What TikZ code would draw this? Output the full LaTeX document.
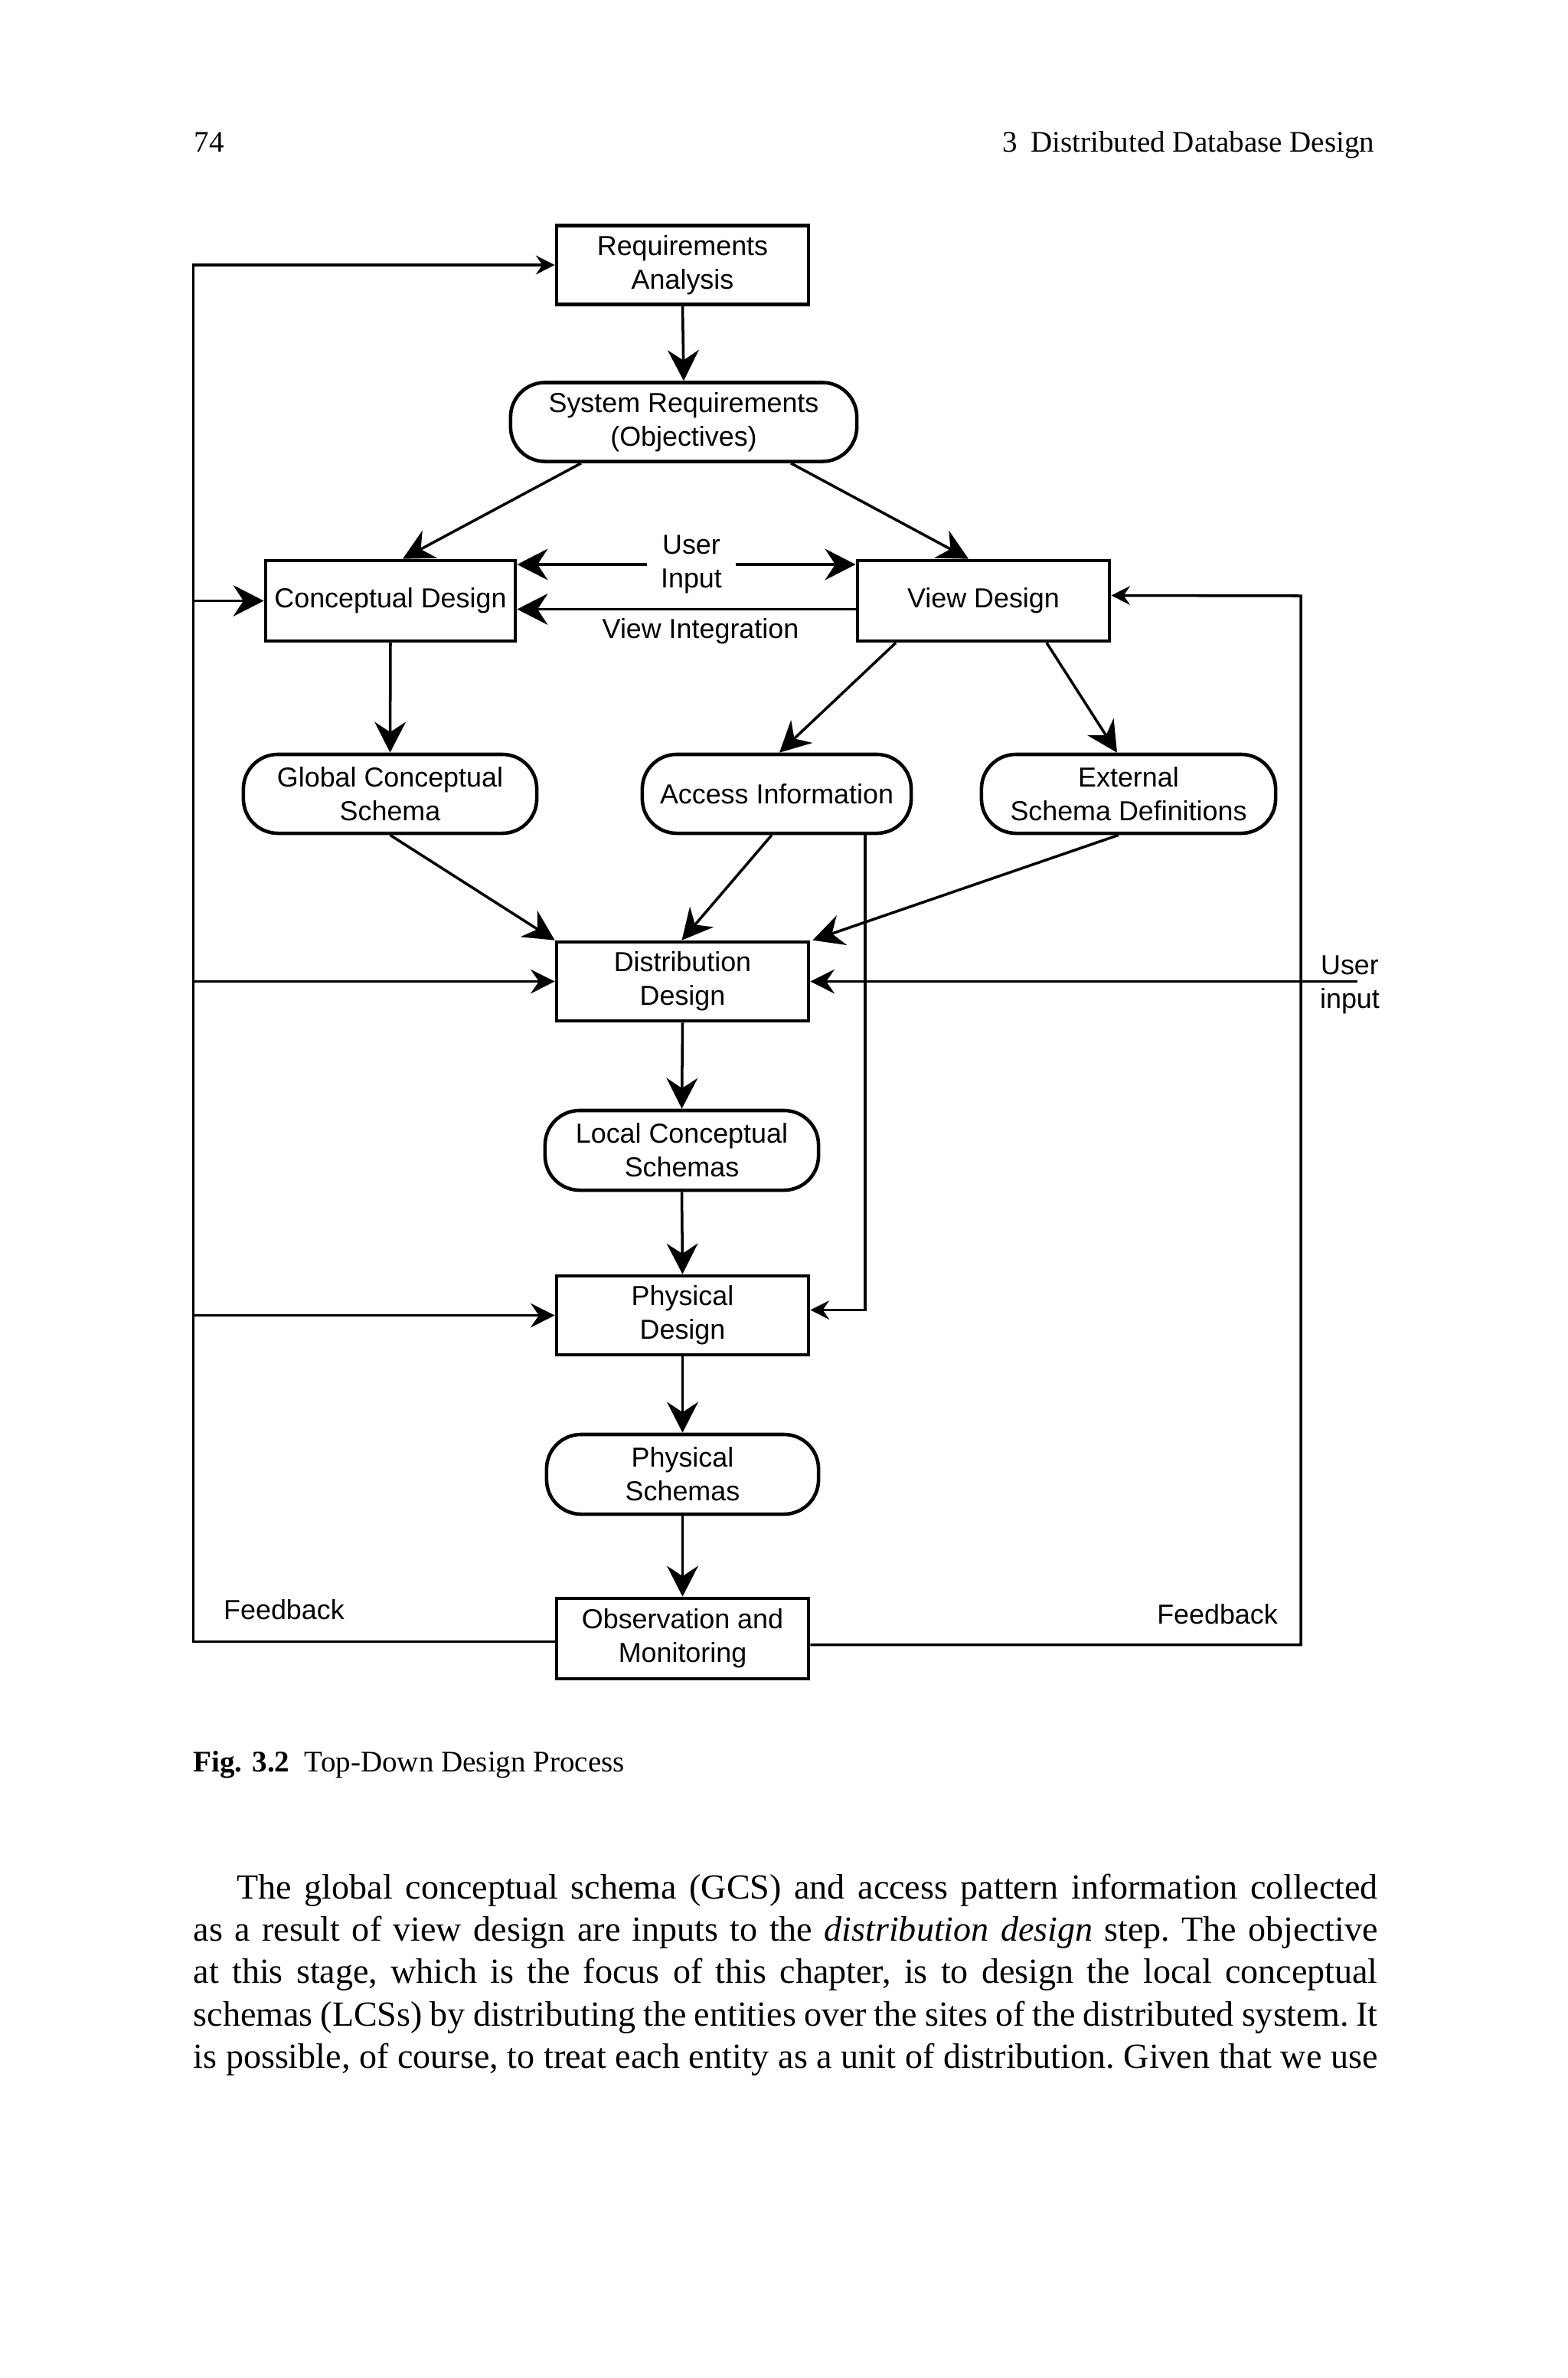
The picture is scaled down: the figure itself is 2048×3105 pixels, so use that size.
\documentclass[tikz,border=0pt]{standalone}
\usepackage{fontspec}
\setmainfont{Liberation Serif}
\newfontfamily\dsans{Liberation Sans}
\usetikzlibrary{arrows.meta,calc}
\begin{document}
\begin{tikzpicture}[x=0.01cm,y=-0.01cm,
  dtext/.style={font=\dsans\fontsize{10.2}{12.5}\selectfont, align=center},
  rbox/.style={draw, line width=1.3pt, inner sep=0pt, minimum width=3.29cm, minimum height=1.03cm, dtext},
  sbox/.style={rbox, rounded corners=0.45cm},
  conn/.style={line width=1.0pt},
  arrbig/.style={conn, -{Stealth[length=11.4pt,width=11.6pt,inset=3.8pt]}},
  arrmed/.style={conn, -{Stealth[length=9pt,width=9pt,inset=3.1pt]}},
  arrsml/.style={conn, -{Stealth[length=7pt,width=7pt,inset=2.4pt]}},
  lbl/.style={dtext, inner sep=0pt},
  serifhead/.style={inner sep=0pt, font=\fontsize{11.1}{13}\selectfont}
]
\path[use as bounding box, fill=white] (0,0) rectangle (2048,3105);

% running head
\node[serifhead, anchor=base west] (pnum) at (253,198) {74};
\node[serifhead, anchor=base east] (runhead) at (1796,198) {3\hspace{0.45em}Distributed Database Design};

% boxes
\node[rbox] (ra) at (891.5,346) {Requirements\\Analysis};
\node[sbox, minimum width=4.52cm] (sr) at (893,551) {System Requirements\\(Objectives)};
\node[rbox, minimum width=3.26cm, minimum height=1.05cm] (cd) at (510,784.5) {Conceptual Design};
\node[rbox, minimum width=3.29cm, minimum height=1.05cm] (vd) at (1284.5,784.5) {View Design};
\node[sbox, minimum width=3.83cm] (gcs) at (509.5,1036.5) {Global Conceptual\\Schema};
\node[sbox, minimum width=3.51cm] (ai) at (1014.5,1036.5) {Access Information};
\node[sbox, minimum width=3.84cm] (esd) at (1474,1036.5) {External\\Schema Definitions};
\node[rbox] (dd) at (891.5,1281.5) {Distribution\\Design};
\node[sbox, minimum width=3.57cm, minimum height=1.04cm] (lcs) at (890.5,1502) {Local Conceptual\\Schemas};
\node[rbox] (pd) at (891.5,1717.5) {Physical\\Design};
\node[sbox, minimum width=3.55cm, minimum height=1.04cm] (ps) at (891.5,1925) {Physical\\Schemas};
\node[rbox, minimum height=1.05cm] (om) at (891.5,2139.5) {Observation and\\Monitoring};

% labels
\node[lbl, inner xsep=0.17cm] (ui) at (903,737) {User\\Input};
\node[lbl] (vi) at (915,824) {View Integration};
\node[lbl] (uin) at (1763,1286) {User\\input};
\node[lbl, anchor=base] (fbl) at (371,2114) {Feedback};
\node[lbl, anchor=base] (fbr) at (1590,2120) {Feedback};

% helper coordinates
\coordinate (lx) at (252.5,346);
\coordinate (rx) at (1699,778);
\coordinate (uend) at (1773,1281.5);

% main flow
\draw[arrbig] (ra.south) -- (sr.north);
\draw[arrbig] ($(sr.south)+(-134,0)$) -- ($(cd.north)+(16,0)$);
\draw[arrbig] ($(sr.south)+(140,0)$) -- ($(vd.north)+(-19.5,0)$);
\draw[arrbig] (ui.west) -- (cd.east |- ui.west);
\draw[arrbig] (ui.east) -- (vd.west |- ui.east);
\draw[arrbig] ($(vd.west)+(0,11)$) -- ($(cd.east)+(0,11)$);
\draw[arrbig] (cd.south) -- (gcs.north);
\draw[arrbig] ($(vd.south)+(-114.5,0)$) -- ($(ai.north)+(3.5,0)$);
\draw[arrbig] ($(vd.south)+(82.5,0)$) -- ($(esd.north)+(-15,0)$);
\draw[arrbig] (gcs.south) -- (dd.north west);
\draw[arrbig] ($(ai.south)+(-6.5,0)$) -- ($(dd.north)+(-1,0)$);
\draw[arrbig] ($(esd.south)+(-13,0)$) -- ($(dd.north east)+(3,0)$);
\draw[arrsml] ($(ai.south)+(115.5,0)$) |- ($(pd.east)+(0,-7)$);
\draw[arrmed] (uend) -- (dd.east);
\draw[arrbig] (dd.south) -- (lcs.north);
\draw[arrbig] (lcs.south) -- (pd.north);
\draw[arrbig] (pd.south) -- (ps.north);
\draw[arrbig] (ps.south) -- (om.north);

% feedback loops
\draw[arrsml] ($(om.west)+(0,4)$) -| (lx) -- (ra.west);
\draw[arrbig] (cd.west -| lx) -- (cd.west);
\draw[arrmed] (dd.west -| lx) -- (dd.west);
\draw[arrmed] (pd.west -| lx) -- (pd.west);
\draw[arrsml] ($(om.east)+(0,8)$) -| (rx) -- ($(vd.east)+(0,-7)$);

% caption
\node[anchor=base west, inner sep=0pt, font=\fontsize{11.1}{13}\selectfont] (caption) at (252,2313) {\textbf{Fig. 3.2}\enspace Top-Down Design Process};

% body text
\node[anchor=base west, inner sep=0pt] (body) at (252,2479) {\parbox[t]{15.46cm}{\frenchspacing\fontsize{13.1}{15.76}\selectfont
\makebox[15.46cm][s]{\hspace*{0.57cm}The global conceptual schema (GCS) and access pattern information collected}\\
\makebox[15.46cm][s]{as a result of view design are inputs to the \textit{distribution design} step. The objective}\\
\makebox[15.46cm][s]{at this stage, which is the focus of this chapter, is to design the local conceptual}\\
\makebox[15.46cm][s]{schemas (LCSs) by distributing the entities over the sites of the distributed system. It}\\
\makebox[15.46cm][s]{is possible, of course, to treat each entity as a unit of distribution. Given that we use}}};
\end{tikzpicture}
\end{document}
